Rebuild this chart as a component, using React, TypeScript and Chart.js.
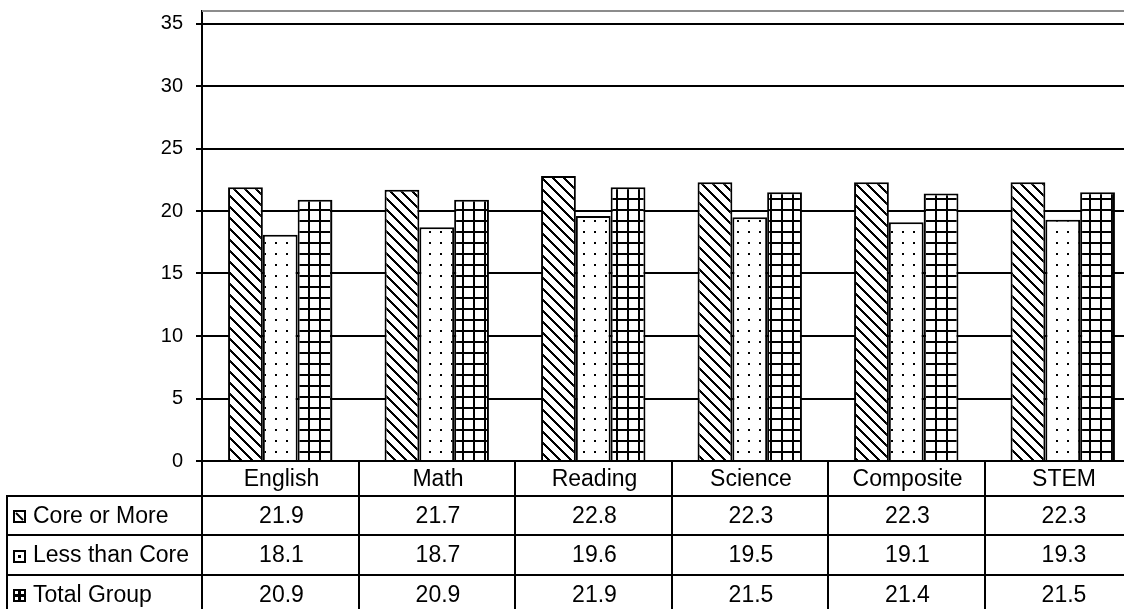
import React, { useEffect, useRef } from "react";
import { Chart, registerables } from "chart.js";

Chart.register(...registerables);

// Subjects and scores
const subjects = ["English", "Math", "Reading", "Science", "Composite", "STEM"];
const coreOrMore = [21.9, 21.7, 22.8, 22.3, 22.3, 22.3];
const lessThanCore = [18.1, 18.7, 19.6, 19.5, 19.1, 19.3];
const totalGroup = [20.9, 20.9, 21.9, 21.5, 21.4, 21.5];
const seriesNames = ["Core or More", "Less than Core", "Total Group"];
const yTickValues = [0, 5, 10, 15, 20, 25, 30, 35];

const FONT = "'Liberation Sans', Arial, sans-serif";
const HEADER_H = 35;
const ROW_H = 39.3;

type PatternKind = "diag" | "dots" | "grid";

function makeTile(kind: PatternKind): HTMLCanvasElement {
  const size = 11;
  const c = document.createElement("canvas");
  c.width = size;
  c.height = size;
  const g = c.getContext("2d")!;
  g.fillStyle = "#fff";
  g.fillRect(0, 0, size, size);
  g.fillStyle = "#000";
  for (let px = 0; px < size; px++) {
    for (let py = 0; py < size; py++) {
      let on = false;
      if (kind === "diag") {
        const d = (((px - py) % size) + size) % size;
        on = d < 3;
      } else if (kind === "dots") {
        on = px < 2 && py < 2;
      } else {
        on = px < 2 || py < 2;
      }
      if (on) g.fillRect(px, py, 1, 1);
    }
  }
  return c;
}

function drawIcon(ctx: CanvasRenderingContext2D, kind: PatternKind, x: number, cy: number) {
  const s = 13;
  const y = Math.round(cy - s / 2);
  ctx.save();
  ctx.fillStyle = "#fff";
  ctx.fillRect(x, y, s, s);
  ctx.strokeStyle = "#000";
  ctx.lineWidth = 2;
  ctx.strokeRect(x + 1, y + 1, s - 2, s - 2);
  ctx.fillStyle = "#000";
  if (kind === "diag") {
    ctx.beginPath();
    ctx.moveTo(x + 3, y + 3);
    ctx.lineTo(x + 10, y + 10);
    ctx.stroke();
  } else if (kind === "dots") {
    ctx.fillRect(x + 5, y + 5, 3, 3);
  } else {
    ctx.fillRect(x + 5, y + 2, 3, s - 4);
    ctx.fillRect(x + 2, y + 5, s - 4, 3);
  }
  ctx.restore();
}

const kinds: PatternKind[] = ["diag", "dots", "grid"];

const dataTablePlugin = {
  id: "dataTable",
  beforeDatasetsDraw(chart: any) {
    const { ctx, chartArea } = chart;
    ctx.save();
    ctx.strokeStyle = "#8c8c8c";
    ctx.lineWidth = 2;
    ctx.beginPath();
    ctx.moveTo(chartArea.left, Math.round(chartArea.top));
    ctx.lineTo(chartArea.right, Math.round(chartArea.top));
    ctx.stroke();
    ctx.restore();
  },
  afterDraw(chart: any) {
    const { ctx } = chart;
    const xs = chart.scales.x;
    const ys = chart.scales.y;
    const n = subjects.length;
    const step = xs.getPixelForValue(1) - xs.getPixelForValue(0);
    const bounds: number[] = [];
    for (let i = 0; i <= n; i++) bounds.push(Math.round(xs.getPixelForValue(i) - step / 2));
    const top = Math.round(ys.getPixelForValue(0));
    const headerBottom = top + HEADER_H;
    const rowTops = [0, 1, 2, 3].map((i) => Math.round(headerBottom + i * ROW_H));
    const bottom = rowTops[3];
    const tableLeft = 7;
    const right = bounds[n];

    ctx.save();
    ctx.strokeStyle = "#000";
    ctx.lineWidth = 2;
    ctx.beginPath();
    for (const bx of bounds) {
      ctx.moveTo(bx, top);
      ctx.lineTo(bx, bottom + 1);
    }
    ctx.moveTo(tableLeft, headerBottom - 1);
    ctx.lineTo(tableLeft, bottom + 1);
    for (const ry of rowTops) {
      ctx.moveTo(tableLeft - 1, ry);
      ctx.lineTo(right + 1, ry);
    }
    ctx.stroke();

    ctx.fillStyle = "#000";
    ctx.font = `23px ${FONT}`;
    ctx.textBaseline = "middle";
    ctx.textAlign = "center";
    subjects.forEach((s, i) => {
      ctx.fillText(s, (bounds[i] + bounds[i + 1]) / 2 + 1, top + HEADER_H / 2 + 1);
    });

    const rows = [coreOrMore, lessThanCore, totalGroup];
    rows.forEach((vals, r) => {
      const cy = (rowTops[r] + rowTops[r + 1]) / 2 + 1;
      drawIcon(ctx, kinds[r], 13, cy);
      ctx.textAlign = "left";
      ctx.fillStyle = "#000";
      ctx.fillText(seriesNames[r], 33, cy);
      ctx.textAlign = "center";
      vals.forEach((v, i) => {
        ctx.fillText(v.toFixed(1), (bounds[i] + bounds[i + 1]) / 2 + 1, cy);
      });
    });
    ctx.restore();
  },
};

export default function App() {
  const canvasRef = useRef<HTMLCanvasElement | null>(null);

  useEffect(() => {
    const canvas = canvasRef.current;
    if (!canvas) return;
    const fills = kinds.map((k) => {
      const tmp = document.createElement("canvas").getContext("2d")!;
      return tmp.createPattern(makeTile(k), "repeat")!;
    });
    const values = [coreOrMore, lessThanCore, totalGroup];

    const chart = new Chart(canvas, {
      type: "bar",
      data: {
        labels: subjects,
        datasets: values.map((vals, i) => ({
          label: seriesNames[i],
          data: vals,
          backgroundColor: fills[i] as any,
          borderColor: "#000",
          borderWidth: 2,
          categoryPercentage: 0.667,
          barPercentage: 1,
        })),
      },
      options: {
        animation: false,
        responsive: false,
        devicePixelRatio: 1,
        layout: { padding: { top: 11, right: 19, bottom: 159, left: 0 } },
        plugins: {
          legend: { display: false },
          tooltip: { enabled: false },
        },
        scales: {
          x: { display: false },
          y: {
            min: 0,
            max: 36,
            afterBuildTicks: (s: any) => {
              s.ticks = yTickValues.map((v) => ({ value: v }));
            },
            afterFit: (s: any) => {
              s.width = 202;
              s.paddingTop = 0;
              s.paddingBottom = 0;
            },
            ticks: {
              padding: 13,
              color: "#000",
              font: { family: FONT, size: 20 },
            },
            grid: {
              color: "#000",
              lineWidth: 2,
              drawTicks: true,
              tickLength: 6,
              tickColor: "#000",
            },
            border: { display: true, color: "#000", width: 2 },
          },
        },
      },
      plugins: [dataTablePlugin],
    });
    return () => chart.destroy();
  }, []);

  return (
    <div
      style={{
        position: "fixed",
        left: 0,
        top: 0,
        width: 1124,
        height: 609,
        overflow: "hidden",
        background: "#fff",
      }}
    >
      <canvas ref={canvasRef} width={1160} height={620} style={{ display: "block" }} />
    </div>
  );
}
